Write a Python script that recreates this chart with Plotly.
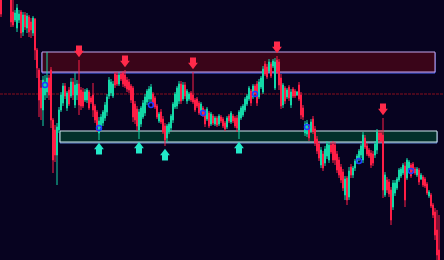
import plotly.graph_objects as go

# ---- data (price units) ----
open_p = [262,264,278,288,272,260,248,240,232,240,248,228,245,232,243,238,227,241,210,190,
          172,150,165,168,182,190,140,130,105,130,150,157,174,152,170,164,178,155,165,176,
          170,168,160,160,168,162,165,154,148,127,132,137,142,148,164,167,164,186,185,176,
          186,187,185,180,178,174,172,156,151,130,136,143,147,158,161,161,166,162,154,139,
          148,141,134,122,128,132,140,153,154,159,176,161,175,159,161,167,165,160,161,157,
          148,152,149,141,147,136,144,136,142,136,143,141,137,133,144,138,144,142,142,130,
          142,145,150,156,161,169,163,174,176,163,173,168,196,193,189,196,194,172,200,198,
          182,155,172,163,173,155,171,169,165,175,165,152,127,126,133,129,141,131,121,116,
          95,106,97,104,100,115,116,115,106,100,93,88,65,82,63,93,85,92,98,102,
          105,100,122,114,110,107,106,105,110,127,127,125,65,80,78,70,53,67,72,80,
          84,87,94,82,92,95,96,91,85,90,81,83,81,76,64,65,55,48,30,10,
          -5,-20]
high_p = [270,285,295,292,275,264,260,250,256,250,250,248,248,247,245,242,244,242,212,192,
          180,184,185,208,185,193,142,135,137,153,168,177,177,169,173,182,182,187,180,200,
          173,172,171,172,170,164,177,156,150,143,146,150,158,166,183,181,179,188,188,187,
          188,189,190,183,181,176,174,159,154,151,154,160,166,171,174,176,168,164,156,148,
          151,144,137,136,138,146,158,168,174,179,179,178,178,171,168,169,188,162,163,159,
          158,154,151,153,149,148,146,144,144,146,145,143,139,144,146,149,146,144,145,150,
          154,156,163,166,174,171,176,176,179,181,184,194,199,196,201,198,201,202,204,201,
          186,177,174,172,175,171,173,171,169,178,168,155,139,140,136,141,144,134,124,119,
          113,109,114,119,118,118,119,118,109,103,96,91,84,84,93,96,94,101,106,111,
          116,128,125,117,112,110,109,119,131,130,130,142,88,83,81,73,80,80,83,92,
          93,97,98,102,100,97,98,93,93,92,87,85,83,78,70,67,57,52,50,45,
          -2,-17]
low_p = [243,262,275,268,261,233,233,238,228,237,222,224,230,227,223,222,224,200,182,143,
         140,134,160,162,160,132,87,98,75,127,148,154,161,149,154,162,160,152,160,145,
         150,152,158,157,150,156,143,137,128,120,129,134,139,144,161,164,162,172,174,174,
         179,173,172,168,167,157,138,136,129,121,133,141,144,155,158,158,154,151,141,137,
         136,126,114,118,126,129,137,151,151,156,156,159,161,156,159,158,156,148,152,145,
         146,143,133,139,132,134,135,134,133,134,137,132,129,131,137,136,137,132,128,121,
         140,143,148,154,159,154,161,164,154,161,171,166,184,181,187,182,192,170,186,170,
         151,152,156,161,159,152,162,162,164,159,141,140,124,123,119,127,126,114,106,99,
         92,89,94,101,97,106,97,95,87,82,77,69,60,55,60,82,82,89,96,99,
         102,97,111,104,102,92,94,102,106,117,117,62,63,67,63,35,50,64,70,78,
         82,85,53,80,90,82,87,85,83,75,80,73,72,65,62,52,42,20,-2,-20,
         -30,-40]
close_p = [246,280,290,272,263,238,235,247,252,246,227,245,233,244,228,230,242,210,192,160,
           152,180,178,182,165,140,100,105,133,150,165,174,164,167,156,178,165,175,176,155,
           154,154,168,170,152,158,150,140,133,139,143,148,155,163,180,178,176,175,176,185,
           181,176,174,171,170,160,143,140,134,148,152,157,163,169,171,173,156,153,143,146,
           138,128,120,134,136,144,156,166,172,176,159,175,164,169,166,160,158,150,154,147,
           156,145,136,151,134,146,137,142,135,144,139,134,131,142,139,147,139,134,132,148,
           152,154,161,164,172,157,174,166,157,178,182,191,186,183,198,184,199,198,188,175,
           154,175,159,170,162,168,164,164,168,161,145,143,136,137,122,138,129,117,109,102,
           110,92,111,116,115,108,100,100,90,85,80,72,81,60,89,85,92,99,104,109,
           114,125,113,106,104,95,97,116,128,120,119,70,85,70,66,40,77,77,81,90,
           91,95,60,100,98,84,89,87,91,78,85,75,74,67,68,54,45,25,5,-10,
           -25,-35]
candle_idx = list(range(len(open_p)))

sell_idx = [39, 62, 96, 138, 191]          # red down-arrow signals (above highs)
buy_idx = [49, 69, 82, 119]                # cyan up-arrow signals (below lows)
dot_idx = [22, 49, 75, 101, 127, 153, 179, 205]
dot_val = [175, 132, 155, 147, 166, 133, 99, 89]

zone_start = [20.5, 29.5]
zone_end = [217, 218]
zone_low = [188, 118]
zone_high = [208, 129]
level_price = 166

# ---- styles ----
BG = "#070320"
UP = "#14d9a8"
DOWN = "#ff1e46"
ARROW_UP = "#22e8c8"
ARROW_DN = "#ff2a4a"
ZONE_FILL = ["#3a0519", "#03302a"]
ZONE_EDGE = ["#c4a8f0", "#d2e6ee"]
ZONE_EDGE2 = ["#4a66ff", "#5d86d6"]
GAP = 3  # px-equivalent gap between wick and arrow tip

fig = go.Figure()

fig.add_trace(go.Candlestick(
    x=candle_idx, open=open_p, high=high_p, low=low_p, close=close_p,
    increasing=dict(line=dict(color=UP, width=1), fillcolor=UP),
    decreasing=dict(line=dict(color=DOWN, width=1), fillcolor=DOWN),
    whiskerwidth=0, hoverinfo="skip",
))

# sell arrows: stem (square) above a down triangle
s_tip = [high_p[i] + GAP for i in sell_idx]
fig.add_trace(go.Scatter(x=sell_idx, y=[t + 8.5 for t in s_tip], mode="markers",
                         marker=dict(symbol="square", size=6, color=ARROW_DN, line=dict(width=0)),
                         hoverinfo="skip"))
fig.add_trace(go.Scatter(x=sell_idx, y=[t + 4 for t in s_tip], mode="markers",
                         marker=dict(symbol="triangle-down", size=8.5, color=ARROW_DN, line=dict(width=0)),
                         hoverinfo="skip"))
# buy arrows
b_tip = [low_p[i] - GAP for i in buy_idx]
fig.add_trace(go.Scatter(x=buy_idx, y=[t - 8.5 for t in b_tip], mode="markers",
                         marker=dict(symbol="square", size=6, color=ARROW_UP, line=dict(width=0)),
                         hoverinfo="skip"))
fig.add_trace(go.Scatter(x=buy_idx, y=[t - 4 for t in b_tip], mode="markers",
                         marker=dict(symbol="triangle-up", size=8.5, color=ARROW_UP, line=dict(width=0)),
                         hoverinfo="skip"))
# blue indicator dots
fig.add_trace(go.Scatter(x=dot_idx, y=dot_val, mode="markers",
                         marker=dict(symbol="circle-open", size=5, color="#1e3cff", line=dict(width=1.5)),
                         hoverinfo="skip"))

shapes = [dict(type="line", xref="paper", x0=0, x1=1, yref="y", y0=level_price, y1=level_price,
               line=dict(color="#5e0b1e", width=1.5, dash="3px,1px"), layer="below")]
for k in range(len(zone_start)):
    shapes.append(dict(type="rect", x0=zone_start[k], x1=zone_end[k], y0=zone_low[k] - 1, y1=zone_high[k] - 1,
                       line=dict(color=ZONE_EDGE2[k], width=1), fillcolor=ZONE_FILL[k], layer="below"))
    shapes.append(dict(type="rect", x0=zone_start[k], x1=zone_end[k], y0=zone_low[k], y1=zone_high[k],
                       line=dict(color=ZONE_EDGE[k], width=1), fillcolor=ZONE_FILL[k], layer="below"))

fig.update_layout(
    width=444, height=260, margin=dict(l=0, r=0, t=0, b=0),
    paper_bgcolor=BG, plot_bgcolor=BG, showlegend=False,
    shapes=shapes,
    xaxis=dict(visible=False, range=[-0.5, len(open_p) - 0.5], rangeslider=dict(visible=False)),
    yaxis=dict(visible=False, range=[0, 260]),
)

fig.write_html("out.html", config={"displayModeBar": False})
